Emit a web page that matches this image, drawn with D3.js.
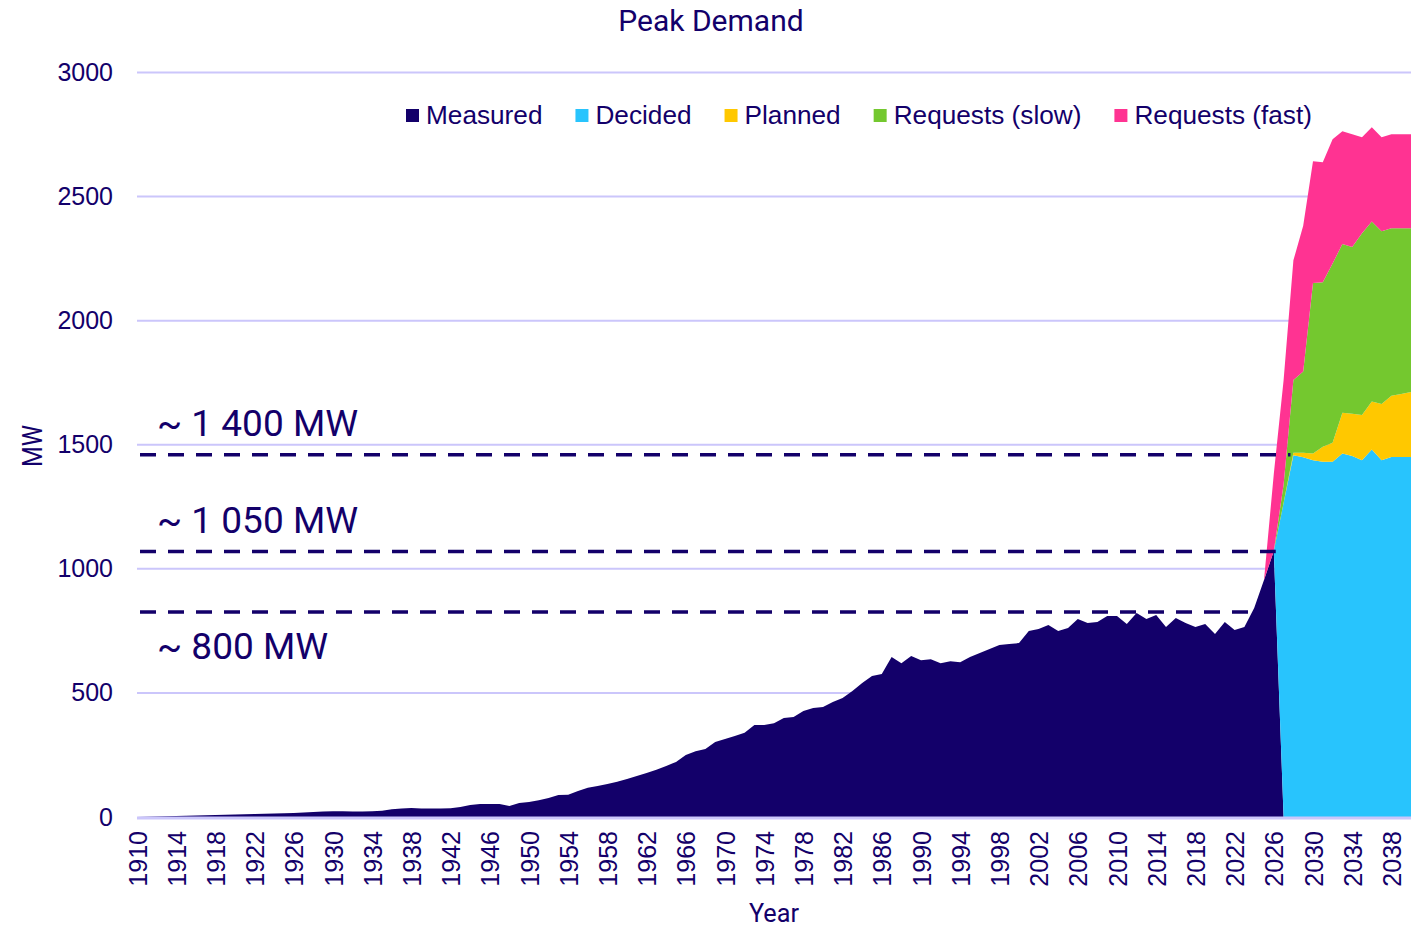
<!DOCTYPE html>
<html>
<head>
<meta charset="utf-8">
<script src="https://cdn.jsdelivr.net/npm/d3@7"></script>
<style>
  html, body { margin: 0; padding: 0; background: #fff; }
  svg { display: block; }
</style>
</head>
<body>
<svg id="chart" width="1423" height="930"></svg>
<script>
// ---------------- DATA ----------------
const firstYear = 1910;
const lastYear = 2040;
const years = d3.range(firstYear, lastYear + 1);

// Measured peak demand, 1910..2026 (MW)
const measured = [
  0, 1, 2, 3, 4, 5, 6, 7, 8, 9,
  10, 11, 12, 13, 14, 15, 16, 18, 20, 22,
  23, 23, 22, 22, 23, 25, 31, 34, 36, 34,
  34, 34, 35, 40, 48, 52, 52, 52, 44, 56,
  60, 68, 77, 89, 90, 105, 118, 125, 133, 142,
  153, 165, 177, 190, 206, 222, 250, 265, 274, 302,
  314, 326, 339, 371, 371, 378, 399, 403, 427, 439,
  443, 463, 480, 508, 540, 568, 576, 645, 620, 649,
  632, 636, 620, 628, 624, 645, 661, 677, 693, 697,
  701, 750, 758, 774, 750, 762, 798, 782, 786, 810,
  810, 778, 822, 798, 814, 766, 802, 782, 766, 778,
  737, 786, 754, 766, 842, 955, 1072
];

// Forecast series, 2026..2040 (MW, stacked on top of each other)
const forecastStart = 2026;
const decided = [0, 1265, 1458, 1450, 1438, 1432, 1432, 1465, 1455, 1438, 1481, 1438, 1451, 1451, 1451];
const planned = [0, 0, 10, 18, 27, 60, 76, 164, 170, 182, 193, 226, 246, 254, 262];
const requestsSlow = [0, 75, 293, 327, 687, 663, 722, 680, 672, 732, 726, 696, 675, 667, 659];
const requestsFast = [310, 420, 482, 587, 490, 483, 501, 454, 454, 387, 379, 379, 379, 379, 379];

const seriesKeys = ["Measured", "Decided", "Planned", "Requests (slow)", "Requests (fast)"];
const seriesColors = ["#13006A", "#28C4FD", "#FFC800", "#74C82F", "#FF3392"];

// Reference levels (value, label, last year reached)
const refValues = [1460, 1070, 826];
const refLabels = ["~ 1 400 MW", "~ 1 050 MW", "~ 800 MW"];
const refEndYears = [2027.7, 2026.2, 2023.6];

const yTicks = [0, 500, 1000, 1500, 2000, 2500, 3000];
const xTickLabels = d3.range(1910, 2039, 4);

// ---------------- BUILD TABLE ----------------
const table = years.map(y => {
  const i = y - firstYear;
  const j = y - forecastStart;
  const f = (arr) => (j >= 0 && j < arr.length ? arr[j] : 0);
  return {
    year: y,
    "Measured": i < measured.length ? measured[i] : 0,
    "Decided": f(decided),
    "Planned": f(planned),
    "Requests (slow)": f(requestsSlow),
    "Requests (fast)": f(requestsFast)
  };
});

// ---------------- CHART ----------------
const textColor = "#13006A";
const gridColor = "#CBC6FB";
const svg = d3.select("#chart");

const x = d3.scaleLinear().domain([firstYear, lastYear]).range([137, 1411]);
const y = d3.scaleLinear().domain([0, 3000]).range([817, 72.5]);

// gridlines
svg.append("g").selectAll("line")
  .data(yTicks.filter(d => d > 0))
  .join("line")
  .attr("x1", x(firstYear)).attr("x2", x(lastYear))
  .attr("y1", d => y(d)).attr("y2", d => y(d))
  .attr("stroke", gridColor).attr("stroke-width", 2);

// stacked areas
const stack = d3.stack().keys(seriesKeys);
const stacked = stack(table);
const area = d3.area()
  .x(d => x(d.data.year))
  .y0(d => y(d[0]))
  .y1(d => y(d[1]));

svg.append("g").selectAll("path")
  .data(stacked)
  .join("path")
  .attr("d", area)
  .attr("fill", (d, i) => seriesColors[i]);

// axis line
svg.append("line")
  .attr("x1", x(firstYear)).attr("x2", x(lastYear))
  .attr("y1", y(0) + 1).attr("y2", y(0) + 1)
  .attr("stroke", gridColor).attr("stroke-width", 3);

// y axis labels
const yAxis = d3.axisLeft(y).tickValues(yTicks).tickFormat(d3.format("d")).tickSize(0).tickPadding(0);
const gy = svg.append("g").attr("transform", "translate(113,0)").call(yAxis);
gy.select(".domain").remove();
gy.selectAll("text")
  .attr("fill", textColor)
  .style("font-family", "'Liberation Sans', Arial, sans-serif")
  .style("font-size", "25px");

// x axis labels
const xAxis = d3.axisBottom(x).tickValues(xTickLabels).tickFormat(d3.format("d")).tickSize(0);
const gx = svg.append("g").attr("transform", `translate(0,${y(0)})`).call(xAxis);
gx.select(".domain").remove();
gx.selectAll("text")
  .attr("fill", textColor)
  .style("font-family", "'Liberation Sans', Arial, sans-serif")
  .style("font-size", "25px")
  .attr("text-anchor", "end")
  .attr("transform", "rotate(-90)")
  .attr("x", -14)
  .attr("y", 0)
  .attr("dy", "0.36em");

// reference dashed lines
svg.append("g").selectAll("line")
  .data(refValues)
  .join("line")
  .attr("x1", x(firstYear) + 3)
  .attr("x2", (d, i) => x(refEndYears[i]))
  .attr("y1", d => y(d)).attr("y2", d => y(d))
  .attr("stroke", textColor)
  .attr("stroke-width", 3.5)
  .attr("stroke-dasharray", "16 12");

// reference labels
const refLabelY = [y(refValues[0]) - 19, y(refValues[1]) - 18, y(refValues[2]) + 47];
svg.append("g").selectAll("text")
  .data(refLabels)
  .join("text")
  .attr("x", 157)
  .attr("y", (d, i) => refLabelY[i])
  .attr("fill", textColor)
  .style("font-family", "Roboto, sans-serif")
  .style("font-size", "37px")
  .text(d => d);

// title
svg.append("text")
  .attr("x", 711).attr("y", 31)
  .attr("text-anchor", "middle")
  .attr("fill", textColor)
  .style("font-family", "Roboto, sans-serif")
  .style("font-size", "30px")
  .text("Peak Demand");

// axis titles
svg.append("text")
  .attr("transform", "translate(42,446) rotate(-90)")
  .attr("text-anchor", "middle")
  .attr("fill", textColor)
  .style("font-family", "Roboto, sans-serif")
  .style("font-size", "27px")
  .attr("textLength", 42)
  .attr("lengthAdjust", "spacingAndGlyphs")
  .text("MW");

svg.append("text")
  .attr("x", 774).attr("y", 922)
  .attr("text-anchor", "middle")
  .attr("fill", textColor)
  .style("font-family", "Roboto, sans-serif")
  .style("font-size", "26px")
  .attr("textLength", 50)
  .attr("lengthAdjust", "spacingAndGlyphs")
  .text("Year");

// legend
const legend = svg.append("g");
let lx = 406;
seriesKeys.forEach((k, i) => {
  legend.append("rect")
    .attr("x", lx).attr("y", 109)
    .attr("width", 13).attr("height", 13)
    .attr("fill", seriesColors[i]);
  const t = legend.append("text")
    .attr("x", lx + 20).attr("y", 124)
    .attr("fill", textColor)
    .style("font-family", "'Liberation Sans', Arial, sans-serif")
    .style("font-size", "26.2px")
    .text(k);
  lx = lx + 20 + t.node().getComputedTextLength() + 33;
});
</script>
</body>
</html>
